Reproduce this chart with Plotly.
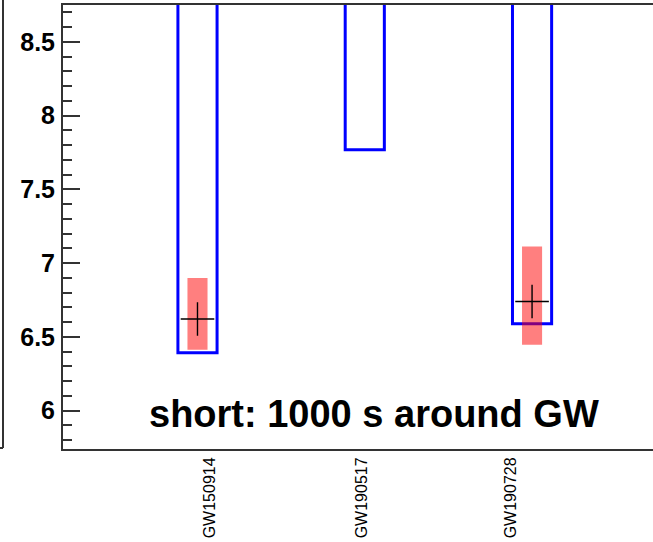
import plotly.graph_objects as go

# ---- data ----
events = ["GW150914", "GW190517", "GW190728"]
box_x = [0, 1, 2]                          # position of each event's box
label_x = [0.075, 0.984, 1.874]            # position of each event's axis label
limit_low = [6.393, 7.768, 6.589]          # bottom of the blue open boxes
band_low = [6.413, None, 6.447]            # red band lower edge
band_high = [6.90, None, 7.113]            # red band upper edge
central = [6.621, None, 6.74]              # marker value
label_text = "short: 1000 s around GW"

TOP = 20.0  # open boxes extend beyond the axis top

fig = go.Figure()

# blue open boxes
fig.add_trace(go.Bar(
    x=box_x, base=limit_low, y=[TOP - v for v in limit_low], width=0.234,
    marker=dict(color="rgba(0,0,0,0)", line=dict(color="#0000ff", width=3)),
    showlegend=False, hoverinfo="skip"))

# red bands
bx = [x for x, lo in zip(box_x, band_low) if lo is not None]
blo = [lo for lo in band_low if lo is not None]
bhi = [hi for hi in band_high if hi is not None]
fig.add_trace(go.Bar(
    x=bx, base=blo, y=[h - l for h, l in zip(bhi, blo)], width=0.12,
    marker=dict(color="rgba(255,0,0,0.5)", line=dict(width=0)),
    showlegend=False, hoverinfo="skip"))

# markers
mx = [x for x, c in zip(box_x, central) if c is not None]
my = [c for c in central if c is not None]
fig.add_trace(go.Scatter(
    x=mx, y=my, mode="markers",
    marker=dict(symbol="cross-thin", size=24, line=dict(color="black", width=1.4)),
    showlegend=False))

W, H = 653, 542
L, R, T, B = 63, 0, 5, 93
pw = W - L - R
ph = H - T - B

fig.update_layout(
    width=W, height=H,
    margin=dict(l=L, r=R, t=T, b=B, pad=0),
    paper_bgcolor="white", plot_bgcolor="white",
    barmode="overlay",
    font=dict(family="Liberation Sans, Arial, sans-serif", color="black"),
    xaxis=dict(
        range=[-0.804, 2.723], tickvals=label_x, ticktext=events,
        tickangle=-90, tickfont=dict(size=16, family="Liberation Sans"),
        ticks="", showgrid=False, zeroline=False,
        showline=True, linecolor="#333", linewidth=2, mirror=True,
    ),
    yaxis=dict(
        range=[5.74, 8.75], tickvals=[6, 6.5, 7, 7.5, 8, 8.5],
        ticktext=["6", "6.5", "7", "7.5", "8", "8.5"],
        tickfont=dict(size=25, family="Liberation Sans", weight="bold"),
        ticks="inside", ticklen=17, tickwidth=2, tickcolor="#333",
        minor=dict(dtick=0.1, ticks="inside", ticklen=9, tickwidth=2, tickcolor="#333"),
        showgrid=False, zeroline=False,
        showline=True, linecolor="#333", linewidth=2, mirror=False,
        ticklabelstandoff=1,
    ),
    annotations=[dict(
        text=label_text, xref="paper", yref="paper",
        x=(374.5 - L) / pw, y=(H - B - 414) / ph,
        xanchor="center", yanchor="middle", showarrow=False,
        font=dict(size=38, family="Liberation Sans", weight="bold", color="black"))],
    shapes=[
        dict(type="line", xref="paper", yref="paper",
             x0=(3 - L) / pw, x1=(3 - L) / pw, y0=(H - B - 0) / ph, y1=(H - B - 448) / ph,
             line=dict(color="#333", width=2)),
        dict(type="line", xref="paper", yref="paper",
             x0=(0 - L) / pw, x1=(3 - L) / pw, y0=(H - B - 448) / ph, y1=(H - B - 448) / ph,
             line=dict(color="#333", width=2)),
    ],
)

fig.write_html("out.html")
